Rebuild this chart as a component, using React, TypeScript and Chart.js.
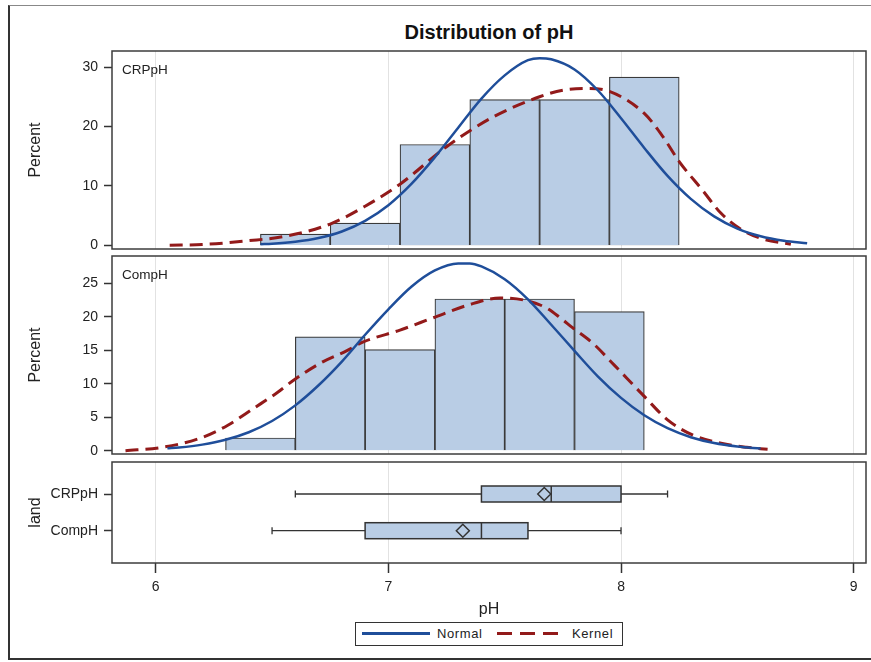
import React, { useEffect, useRef } from 'react';
import { Chart, registerables } from 'chart.js';

Chart.register(...registerables);

// ---------- data ----------
const xTickValues = [6, 7, 8, 9];

const crpBinMid = [6.6, 6.9, 7.2, 7.5, 7.8, 8.1];
const crpPercent = [1.89, 3.77, 16.98, 24.53, 24.53, 28.3];
const crpTicks = [0, 10, 20, 30];

const compBinMid = [6.45, 6.75, 7.05, 7.35, 7.65, 7.95];
const compPercent = [1.89, 16.98, 15.09, 22.64, 22.64, 20.75];
const compTicks = [0, 5, 10, 15, 20, 25];

const crpNormalX = [6.45, 6.5, 6.6, 6.7, 6.8, 6.9, 7.0, 7.1, 7.2, 7.3, 7.4, 7.5, 7.6, 7.65, 7.7, 7.8, 7.9, 8.0, 8.1, 8.2, 8.3, 8.4, 8.5, 8.6, 8.7, 8.8];
const crpNormalY = [0.2, 0.28, 0.62, 1.25, 2.35, 4.14, 6.77, 10.39, 14.85, 19.8, 24.7, 28.6, 31.15, 31.5, 31.3, 29.6, 26.1, 21.4, 16.4, 11.7, 7.83, 4.88, 2.84, 1.54, 0.78, 0.37];

const crpKernelX = [6.06, 6.2, 6.4, 6.55, 6.75, 6.9, 7.05, 7.25, 7.45, 7.65, 7.75, 7.85, 7.95, 8.1, 8.18, 8.25, 8.35, 8.43, 8.52, 8.6, 8.73];
const crpKernelY = [0.05, 0.15, 0.8, 1.5, 3.6, 6.6, 10.3, 16.6, 21.6, 25.0, 26.1, 26.4, 25.9, 22.2, 18.3, 14.1, 9.3, 5.4, 2.6, 1.2, 0.2];

const compNormalX = [6.05, 6.1, 6.2, 6.3, 6.4, 6.5, 6.6, 6.7, 6.8, 6.9, 7.0, 7.1, 7.2, 7.3, 7.35, 7.4, 7.5, 7.6, 7.7, 7.8, 7.9, 8.0, 8.1, 8.2, 8.3, 8.4, 8.5, 8.6];
const compNormalY = [0.34, 0.47, 0.9, 1.62, 2.75, 4.43, 6.76, 9.76, 13.3, 17.3, 21.1, 24.5, 26.9, 27.95, 27.95, 27.5, 25.6, 22.6, 18.8, 14.9, 11.1, 7.88, 5.28, 3.35, 2.01, 1.14, 0.62, 0.31];

const compKernelX = [5.87, 6.02, 6.19, 6.31, 6.42, 6.52, 6.6, 6.72, 6.82, 6.89, 7.05, 7.19, 7.34, 7.48, 7.58, 7.68, 7.74, 7.79, 7.88, 7.97, 8.1, 8.2, 8.31, 8.43, 8.54, 8.63];
const compKernelY = [0.0, 0.45, 1.85, 3.8, 6.3, 8.6, 10.7, 13.3, 14.9, 16.2, 18.0, 19.8, 21.7, 22.8, 22.5, 21.3, 19.8, 18.4, 16.0, 12.8, 8.1, 4.6, 2.3, 1.1, 0.5, 0.2];

const landCategories = ['CRPpH', 'CompH'];
const boxMin = [6.6, 6.5];
const boxQ1 = [7.4, 6.9];
const boxMedian = [7.7, 7.4];
const boxQ3 = [8.0, 7.6];
const boxMax = [8.2, 8.0];
const boxMean = [7.67, 7.32];

// ---------- style ----------
const W = 871;
const H = 662;
const X_MIN = 5.812;
const X_MAX = 9.053;
const FONT = "'Liberation Sans', Arial, Helvetica, sans-serif";
const BLUE = '#1F4E9A';
const RED = '#921A1A';
const FILL = '#B9CDE5';
const EDGE = '#3A3A3A';
const GRID = '#E2E2E2';
const TEXT = '#222222';

const zeroPadding = () => ({ left: 0, right: 0, top: 0, bottom: 0 });

const framePlugin = {
  id: 'frame',
  afterDraw(chart: any) {
    const { ctx, chartArea: a } = chart;
    ctx.save();
    ctx.strokeStyle = '#3C3C3C';
    ctx.lineWidth = 1.5;
    ctx.strokeRect(a.left, a.top, a.right - a.left, a.bottom - a.top);
    ctx.restore();
  },
};

const insetPlugin = {
  id: 'inset',
  afterDraw(chart: any, _args: any, opts: any) {
    if (!opts || !opts.text) return;
    const { ctx, chartArea: a } = chart;
    ctx.save();
    ctx.font = `13.5px ${FONT}`;
    ctx.fillStyle = TEXT;
    ctx.textBaseline = 'middle';
    ctx.textAlign = 'left';
    ctx.fillText(opts.text, a.left + 10, a.top + 19.5);
    ctx.restore();
  },
};

const boxPlugin = {
  id: 'boxes',
  beforeDatasetsDraw(chart: any) {
    const { ctx } = chart;
    const xs = chart.scales.x;
    const ys = chart.scales.y;
    ctx.save();
    ctx.strokeStyle = '#333333';
    for (let i = 0; i < landCategories.length; i++) {
      const y = ys.getPixelForValue(i);
      const pMin = xs.getPixelForValue(boxMin[i]);
      const pQ1 = xs.getPixelForValue(boxQ1[i]);
      const pMed = xs.getPixelForValue(boxMedian[i]);
      const pQ3 = xs.getPixelForValue(boxQ3[i]);
      const pMax = xs.getPixelForValue(boxMax[i]);
      const hh = 8;
      ctx.lineWidth = 1.3;
      ctx.beginPath();
      ctx.moveTo(pMin, y);
      ctx.lineTo(pQ1, y);
      ctx.moveTo(pQ3, y);
      ctx.lineTo(pMax, y);
      ctx.moveTo(pMin, y - 3.5);
      ctx.lineTo(pMin, y + 3.5);
      ctx.moveTo(pMax, y - 3.5);
      ctx.lineTo(pMax, y + 3.5);
      ctx.stroke();
      ctx.fillStyle = FILL;
      ctx.fillRect(pQ1, y - hh, pQ3 - pQ1, 2 * hh);
      ctx.lineWidth = 1.5;
      ctx.strokeRect(pQ1, y - hh, pQ3 - pQ1, 2 * hh);
      ctx.beginPath();
      ctx.moveTo(pMed, y - hh);
      ctx.lineTo(pMed, y + hh);
      ctx.stroke();
    }
    ctx.restore();
  },
};

function xScale(showTicks: boolean) {
  return {
    type: 'linear',
    min: X_MIN,
    max: X_MAX,
    offset: false,
    afterBuildTicks: (s: any) => {
      s.ticks = xTickValues.map((v) => ({ value: v }));
    },
    afterFit: (s: any) => {
      s.height = showTicks ? 57 : 0;
      s.paddingLeft = 0;
      s.paddingRight = 0;
      s.paddingTop = 0;
      s.paddingBottom = 0;
      if (s._margins) {
        s._margins.left = 0;
        s._margins.right = 0;
      }
      s.getPadding = zeroPadding;
    },
    grid: {
      offset: false,
      color: GRID,
      lineWidth: 1,
      drawTicks: showTicks,
      tickLength: 10,
      tickColor: '#333333',
      tickWidth: 1.5,
    },
    border: { display: false },
    ticks: {
      display: showTicks,
      padding: 6,
      color: TEXT,
      font: { family: FONT, size: 14 },
      maxRotation: 0,
    },
    title: {
      display: showTicks,
      text: 'pH',
      color: TEXT,
      font: { family: FONT, size: 16 },
      padding: { top: 0, bottom: 1 },
    },
  };
}

function yScale(min: number, max: number, ticks: number[], title: string, reverse: boolean, labels?: string[]) {
  return {
    type: 'linear',
    min,
    max,
    reverse,
    afterBuildTicks: (s: any) => {
      s.ticks = ticks.map((v) => ({ value: v }));
    },
    afterFit: (s: any) => {
      s.width = 112;
      s.paddingTop = 0;
      s.paddingBottom = 0;
      s.paddingLeft = 0;
      s.paddingRight = 0;
      if (s._margins) {
        s._margins.top = 0;
        s._margins.bottom = 0;
      }
      s.getPadding = zeroPadding;
    },
    grid: {
      drawOnChartArea: false,
      drawTicks: true,
      tickLength: 8,
      tickColor: '#333333',
      tickWidth: 1.5,
    },
    border: { display: false },
    ticks: {
      padding: 6,
      color: TEXT,
      font: { family: FONT, size: 14 },
      callback: (v: any) => (labels ? labels[v] ?? '' : String(v)),
    },
    title: {
      display: true,
      text: title,
      color: TEXT,
      font: { family: FONT, size: 16 },
      padding: { top: 26, bottom: 0 },
    },
  };
}

function histConfig(
  mids: number[],
  pct: number[],
  nx: number[],
  ny: number[],
  kx: number[],
  ky: number[],
  yMin: number,
  yMax: number,
  yTicks: number[],
  inset: string,
  padTop: number,
  padBottom: number
): any {
  return {
    type: 'bar',
    data: {
      datasets: [
        {
          type: 'bar',
          data: mids.map((x, i) => ({ x, y: pct[i] })),
          backgroundColor: FILL,
          borderColor: EDGE,
          borderWidth: 1.2,
          barPercentage: 1,
          categoryPercentage: 1,
          order: 3,
        },
        {
          type: 'line',
          data: kx.map((x, i) => ({ x, y: ky[i] })),
          borderColor: RED,
          borderWidth: 3,
          borderDash: [13, 7],
          pointRadius: 0,
          fill: false,
          cubicInterpolationMode: 'monotone',
          order: 2,
        },
        {
          type: 'line',
          data: nx.map((x, i) => ({ x, y: ny[i] })),
          borderColor: BLUE,
          borderWidth: 2.5,
          pointRadius: 0,
          fill: false,
          cubicInterpolationMode: 'monotone',
          order: 1,
        },
      ],
    },
    options: {
      responsive: false,
      animation: false,
      layout: { autoPadding: false, padding: { left: 0, right: 5, top: padTop, bottom: padBottom } },
      plugins: {
        legend: { display: false },
        tooltip: { enabled: false },
        inset: { text: inset },
      },
      scales: {
        x: xScale(false),
        y: yScale(yMin, yMax, yTicks, 'Percent', false),
      },
    },
    plugins: [framePlugin, insetPlugin],
  };
}

export default function App() {
  const r1 = useRef<HTMLCanvasElement>(null);
  const r2 = useRef<HTMLCanvasElement>(null);
  const r3 = useRef<HTMLCanvasElement>(null);

  useEffect(() => {
    const c1 = new Chart(
      r1.current as HTMLCanvasElement,
      histConfig(crpBinMid, crpPercent, crpNormalX, crpNormalY, crpKernelX, crpKernelY, -0.6, 32.7, crpTicks, 'CRPpH', 51, H - 249)
    );
    const c2 = new Chart(
      r2.current as HTMLCanvasElement,
      histConfig(compBinMid, compPercent, compNormalX, compNormalY, compKernelX, compKernelY, -0.5, 29.06, compTicks, 'CompH', 256, H - 454)
    );
    const c3 = new Chart(r3.current as HTMLCanvasElement, {
      type: 'scatter',
      data: {
        datasets: [
          {
            data: boxMean.map((m, i) => ({ x: m, y: i })),
            pointStyle: 'rectRot',
            pointRadius: 6.5,
            borderColor: '#333333',
            borderWidth: 1.5,
            backgroundColor: 'rgba(0,0,0,0)',
          },
        ],
      },
      options: {
        responsive: false,
        animation: false,
        layout: { autoPadding: false, padding: { left: 0, right: 5, top: 462, bottom: 42 } },
        plugins: { legend: { display: false }, tooltip: { enabled: false } },
        scales: {
          x: xScale(true) as any,
          y: yScale(-0.872, 1.88, [0, 1], 'land', true, landCategories) as any,
        },
      },
      plugins: [framePlugin, boxPlugin],
    } as any);
    return () => {
      c1.destroy();
      c2.destroy();
      c3.destroy();
    };
  }, []);

  const canvasStyle: React.CSSProperties = { position: 'absolute', left: 0, top: 0 };

  return (
    <div style={{ position: 'absolute', left: 0, top: 0, width: W, height: H, background: '#fff', overflow: 'hidden', fontFamily: FONT }}>
      <div
        style={{
          position: 'absolute',
          left: 8,
          top: 5,
          width: 880,
          height: 655,
          boxSizing: 'border-box',
          borderLeft: '2px solid #333',
          borderTop: '1px solid #888',
          borderBottom: '2px solid #333',
        }}
      />
      <div
        style={{
          position: 'absolute',
          left: 112,
          width: 754,
          top: 20,
          lineHeight: '24px',
          textAlign: 'center',
          fontSize: 20,
          fontWeight: 'bold',
          color: '#111',
        }}
      >
        Distribution of pH
      </div>
      <canvas ref={r1} width={W} height={H} style={canvasStyle} />
      <canvas ref={r2} width={W} height={H} style={canvasStyle} />
      <canvas ref={r3} width={W} height={H} style={canvasStyle} />
      <div
        style={{
          position: 'absolute',
          left: 355,
          top: 622,
          width: 268,
          height: 24,
          boxSizing: 'border-box',
          border: '1px solid #333',
          background: '#fff',
        }}
      >
        <svg width={266} height={22} style={{ position: 'absolute', left: 0, top: 0 }}>
          <line x1={6} y1={10.5} x2={74} y2={10.5} stroke={BLUE} strokeWidth={3} />
          <line x1={141} y1={10.5} x2={202} y2={10.5} stroke={RED} strokeWidth={3} strokeDasharray="15 8" />
        </svg>
        <span style={{ position: 'absolute', left: 81, top: 0, lineHeight: '22px', fontSize: 13, letterSpacing: '0.6px', color: TEXT }}>
          Normal
        </span>
        <span style={{ position: 'absolute', left: 216, top: 0, lineHeight: '22px', fontSize: 13, letterSpacing: '0.6px', color: TEXT }}>
          Kernel
        </span>
      </div>
    </div>
  );
}
